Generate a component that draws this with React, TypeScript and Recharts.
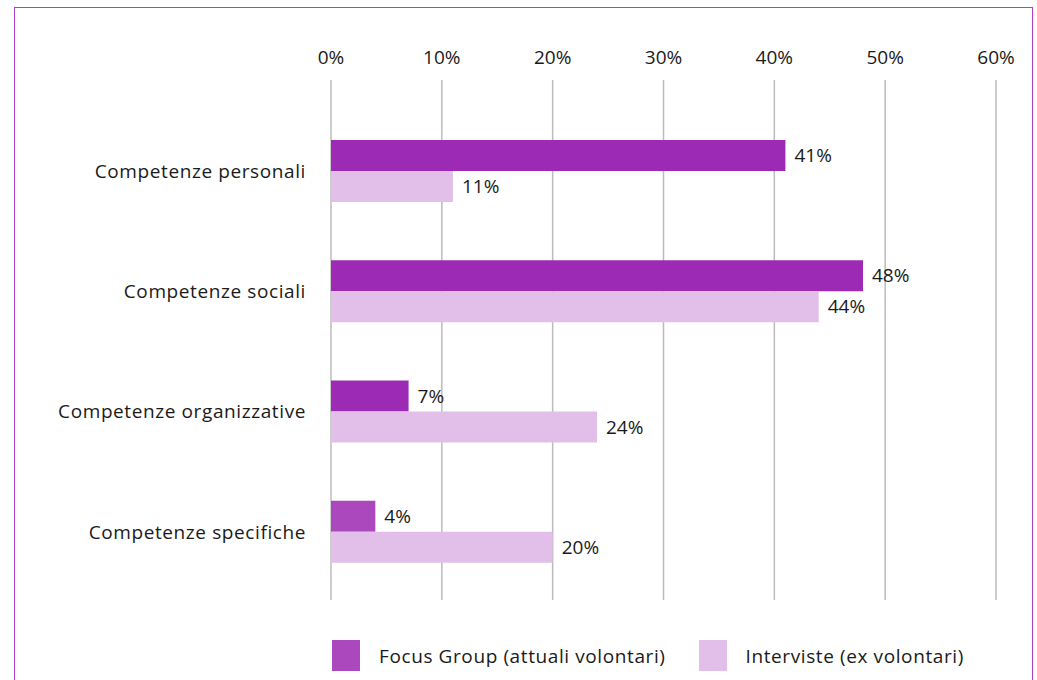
import { Bar, BarChart, CartesianGrid, Cell, LabelList, XAxis, YAxis } from 'recharts';

const categories = [
  'Competenze personali',
  'Competenze sociali',
  'Competenze organizzative',
  'Competenze specifiche',
];
const focusGroup = [41, 48, 7, 4];
const interviste = [11, 44, 24, 20];
const xTicks = [0, 10, 20, 30, 40, 50, 60];

const seriesNames = ['Focus Group (attuali volontari)', 'Interviste (ex volontari)'];

const DARK = '#9c2ab4';
const MID = '#ab48bd';
const LIGHT = '#e2bfe8';
const FONT = '"Open Sans", sans-serif';

const data = categories.map((name, i) => ({
  name,
  focus: focusGroup[i],
  interviste: interviste[i],
}));

const LegendBox = () => (
  <div
    style={{
      position: 'absolute',
      left: 332,
      top: 640,
      display: 'flex',
      alignItems: 'center',
      fontFamily: FONT,
      fontSize: 19,
      letterSpacing: 0.6,
      color: '#1a1a1a',
      whiteSpace: 'nowrap',
    }}
  >
    {[MID, LIGHT].map((c, i) => (
      <div key={i} style={{ display: 'flex', alignItems: 'center', marginRight: i === 0 ? 33 : 0 }}>
        <span style={{ display: 'inline-block', width: 28, height: 31, background: c, marginRight: 19 }} />
        <span>{seriesNames[i]}</span>
      </div>
    ))}
  </div>
);

const pct = (v: unknown) => `${v}%`;

export default function App() {
  return (
    <div style={{ position: 'absolute', left: 0, top: 0, width: 1037, height: 680, overflow: 'hidden', background: '#fff' }}>
      <div
        style={{
          position: 'absolute',
          left: 14,
          top: 7,
          width: 1019,
          height: 700,
          border: '1px solid #b040c8',
          boxSizing: 'border-box',
        }}
      />
      <div style={{ position: 'absolute', left: 0, top: 0 }}>
        <BarChart
          width={1037}
          height={680}
          data={data}
          layout="vertical"
          margin={{ top: 0, right: 41, bottom: 80, left: 0 }}
          barCategoryGap={29}
          barGap={0}
        >
          <CartesianGrid horizontal={false} stroke="#bcbcbc" strokeWidth={1.5} />
          <XAxis
            type="number"
            orientation="top"
            domain={[0, 60]}
            ticks={xTicks}
            tickFormatter={pct}
            axisLine={false}
            tickLine={false}
            tickSize={0}
            tickMargin={16}
            height={80}
            interval={0}
            tick={{ fill: '#1a1a1a', fontSize: 19, fontFamily: FONT }}
          />
          <YAxis
            type="category"
            dataKey="name"
            width={331}
            axisLine={false}
            tickLine={false}
            tickSize={0}
            tickMargin={25}
            padding={{ top: 31, bottom: 8 }}
            tick={{ fill: '#1a1a1a', fontSize: 19, fontFamily: FONT, letterSpacing: 0.6 }}
          />
          <Bar dataKey="focus" name={seriesNames[0]} barSize={31} fill={DARK} isAnimationActive={false}>
            {data.map((_, i) => (
              <Cell key={i} fill={i === data.length - 1 ? MID : DARK} />
            ))}
            <LabelList
              dataKey="focus"
              position="right"
              offset={9}
              formatter={pct}
              style={{ fill: '#1a1a1a', fontSize: 19, fontFamily: FONT }}
            />
          </Bar>
          <Bar dataKey="interviste" name={seriesNames[1]} barSize={31} fill={LIGHT} isAnimationActive={false}>
            <LabelList
              dataKey="interviste"
              position="right"
              offset={9}
              formatter={pct}
              style={{ fill: '#1a1a1a', fontSize: 19, fontFamily: FONT }}
            />
          </Bar>
        </BarChart>
      </div>
      <LegendBox />
    </div>
  );
}
